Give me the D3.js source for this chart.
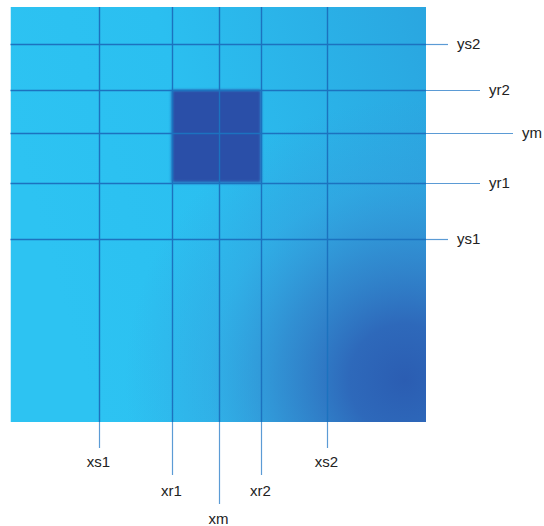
<!DOCTYPE html>
<html><head><meta charset="utf-8">
<script src="https://cdn.jsdelivr.net/npm/d3@7"></script>
<style>html,body{margin:0;padding:0;background:#fff;}svg{display:block;}</style>
</head><body>
<script>
// Data: vertical (x) and horizontal (y) reference lines, values in 0-100 image units
const xLabels = ["xs1", "xr1", "xm", "xr2", "xs2"];
const xValues = [21.3, 38.8, 50.3, 60.3, 76.1];
const yLabels = ["ys2", "yr2", "ym", "yr1", "ys1"];
const yValues = [91.2, 80.0, 69.7, 57.7, 44.2];
// Highlighted region spans xr1..xr2, yr1..yr2
const region = {x0: "xr1", x1: "xr2", y0: "yr1", y1: "yr2"};

const W = 544, H = 526;
const img = {left: 10.5, top: 7, right: 426, bottom: 422};
const x = d3.scaleLinear().domain([0, 100]).range([img.left, img.right]);
const y = d3.scaleLinear().domain([0, 100]).range([img.bottom, img.top]);

const svg = d3.select("body").append("svg").attr("width", W).attr("height", H);
const defs = svg.append("defs");
const lg = defs.append("linearGradient").attr("id", "bg")
  .attr("x1", "0").attr("y1", "0.3").attr("x2", "1").attr("y2", "0");
[[0, "#2dc3f2"], [0.4, "#2bbff0"], [1, "#2aa6e0"]]
  .forEach(([o, c]) => lg.append("stop").attr("offset", o).attr("stop-color", c));
const rg = defs.append("radialGradient").attr("id", "dark")
  .attr("gradientUnits", "userSpaceOnUse")
  .attr("cx", 405).attr("cy", 380).attr("r", 280);
[[0, "#2b5db2", 1], [0.2, "#2e65b8", 0.95], [0.45, "#3478c4", 0.65], [0.7, "#3a8cd2", 0.3], [1, "#3a8cd2", 0]]
  .forEach(([o, c, a]) => rg.append("stop").attr("offset", o).attr("stop-color", c).attr("stop-opacity", a));
defs.append("filter").attr("id", "blur").attr("x", "-10%").attr("y", "-10%")
  .attr("width", "120%").attr("height", "120%")
  .append("feGaussianBlur").attr("stdDeviation", 1.4);
defs.append("clipPath").attr("id", "imgclip").append("rect")
  .attr("x", img.left).attr("y", img.top)
  .attr("width", img.right - img.left).attr("height", img.bottom - img.top);

// background photo
const photo = svg.append("g").attr("clip-path", "url(#imgclip)");
photo.append("rect").attr("x", img.left).attr("y", img.top)
  .attr("width", img.right - img.left).attr("height", img.bottom - img.top)
  .attr("fill", "url(#bg)");
photo.append("rect").attr("x", img.left).attr("y", img.top)
  .attr("width", img.right - img.left).attr("height", img.bottom - img.top)
  .attr("fill", "url(#dark)");

const xv = l => xValues[xLabels.indexOf(l)];
const yv = l => yValues[yLabels.indexOf(l)];

// dark square
svg.append("rect")
  .attr("x", x(xv(region.x0))).attr("y", y(yv(region.y1)))
  .attr("width", x(xv(region.x1)) - x(xv(region.x0)))
  .attr("height", y(yv(region.y0)) - y(yv(region.y1)))
  .attr("fill", "#2a50a8").attr("filter", "url(#blur)");

// stagger level by label type
const level = l => l.endsWith("m") ? 2 : (l.includes("r") ? 1 : 0);
const xEnd = [448, 475, 504];
const xLabY = [463, 492, 520];
const yEnd = [448, 480, 513];
const yLabX = [457, 489, 522];
const font = "Liberation Sans, Arial, sans-serif";

// vertical lines
xLabels.forEach((l, i) => {
  const px = Math.round(x(xValues[i])) + 0.5;
  svg.append("line").attr("x1", px).attr("x2", px).attr("y1", img.top).attr("y2", img.bottom)
    .attr("stroke", "#1c72bf").attr("stroke-width", 1.4);
  svg.append("line").attr("x1", px).attr("x2", px).attr("y1", img.bottom).attr("y2", xEnd[level(l)])
    .attr("stroke", "#5b9bd5").attr("stroke-width", 1.2);
  svg.append("text").attr("x", px - 1).attr("y", xLabY[level(l)])
    .attr("text-anchor", "middle").attr("dominant-baseline", "middle")
    .attr("font-family", font).attr("font-size", 15)
    .attr("fill", "#222").text(l);
});
// horizontal lines
yLabels.forEach((l, i) => {
  const py = Math.round(y(yValues[i])) + 0.5;
  svg.append("line").attr("x1", img.left).attr("x2", img.right).attr("y1", py).attr("y2", py)
    .attr("stroke", "#1c72bf").attr("stroke-width", 1.4);
  svg.append("line").attr("x1", img.right).attr("x2", yEnd[level(l)]).attr("y1", py).attr("y2", py)
    .attr("stroke", "#5b9bd5").attr("stroke-width", 1.2);
  svg.append("text").attr("x", yLabX[level(l)]).attr("y", py + 1)
    .attr("text-anchor", "start").attr("dominant-baseline", "middle")
    .attr("font-family", font).attr("font-size", 15)
    .attr("fill", "#222").text(l);
});
</script>
</body></html>
